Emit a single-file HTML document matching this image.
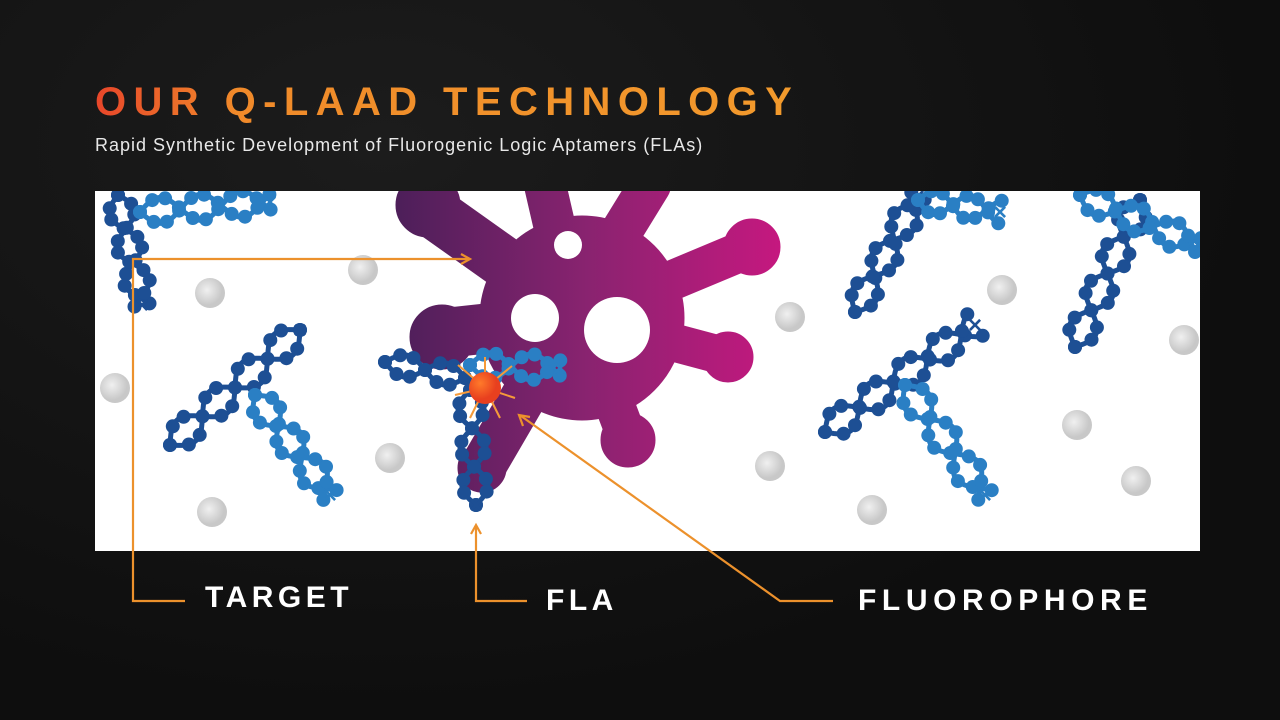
<!DOCTYPE html>
<html><head><meta charset="utf-8"><style>
html,body{margin:0;padding:0;background:#111;}
#w{position:relative;width:1280px;height:720px;overflow:hidden;background:radial-gradient(ellipse at 30% 20%,#1c1c1c,#0e0e0e 70%);font-family:"Liberation Sans",sans-serif;}
.t{position:absolute;left:95px;top:80px;font-size:40px;font-weight:bold;letter-spacing:7.4px;background:linear-gradient(90deg,#e8462a 0%,#f08a2a 20%,#f29a2c 100%);-webkit-background-clip:text;background-clip:text;color:transparent;white-space:nowrap;}
.s{position:absolute;left:95px;top:135px;font-size:18px;letter-spacing:1px;color:#e8e8e8;white-space:nowrap;}
.l{position:absolute;color:#fff;font-weight:bold;font-size:30px;letter-spacing:4.5px;white-space:nowrap;}
svg{position:absolute;left:0;top:0;}
</style></head><body><div id="w">
<div class="t">OUR Q-LAAD TECHNOLOGY</div>
<div class="s">Rapid Synthetic Development of Fluorogenic Logic Aptamers (FLAs)</div>
<svg width="1280" height="720" id="sv">
<defs>
<linearGradient id="vg" gradientUnits="userSpaceOnUse" x1="400" y1="0" x2="780" y2="0"><stop offset="0" stop-color="#4e1f5a"/><stop offset="0.5" stop-color="#8a2370"/><stop offset="1" stop-color="#c5187f"/></linearGradient>
<radialGradient id="fg" cx="0.35" cy="0.35"><stop offset="0" stop-color="#ff7a2a"/><stop offset="1" stop-color="#e8401f"/></radialGradient>
<radialGradient id="bg" cx="0.4" cy="0.4"><stop offset="0" stop-color="#f0f0f0"/><stop offset="1" stop-color="#c8c8c8"/></radialGradient>
<clipPath id="pc"><rect x="95" y="191" width="1105" height="360"/></clipPath>
</defs>
<rect x="95" y="191" width="1105" height="360" fill="#fff"/>
<g clip-path="url(#pc)" id="cg">
<g fill="url(#bg)">
<circle cx="363" cy="270" r="15"/><circle cx="210" cy="293" r="15"/><circle cx="115" cy="388" r="15"/><circle cx="390" cy="458" r="15"/><circle cx="212" cy="512" r="15"/><circle cx="790" cy="317" r="15"/><circle cx="770" cy="466" r="15"/><circle cx="872" cy="510" r="15"/><circle cx="1002" cy="290" r="15"/><circle cx="1184" cy="340" r="15"/><circle cx="1077" cy="425" r="15"/><circle cx="1136" cy="481" r="15"/>
</g>
<g fill="url(#vg)" stroke="url(#vg)" stroke-linecap="round">
<circle cx="582" cy="318" r="102"/>
<line x1="582" y1="318" x2="752" y2="247" stroke-width="40"/><circle cx="752" cy="247" r="28"/>
<line x1="582" y1="318" x2="728" y2="357" stroke-width="38"/><circle cx="728" cy="357" r="25"/>
<line x1="582" y1="318" x2="628" y2="440" stroke-width="40"/><circle cx="628" cy="440" r="27"/>
<line x1="582" y1="318" x2="445" y2="333" stroke-width="50"/><circle cx="442" cy="337" r="32"/>
<line x1="582" y1="318" x2="430" y2="210" stroke-width="52"/><circle cx="428" cy="205" r="32"/>
<line x1="560" y1="250" x2="545" y2="185" stroke-width="42"/>
<line x1="610" y1="250" x2="650" y2="185" stroke-width="42"/>
<path d="M545 360 L482 468" stroke-width="46"/><circle cx="482" cy="468" r="24"/>
</g>
<g fill="#fff"><circle cx="568" cy="245" r="14"/><circle cx="535" cy="318" r="24"/><circle cx="617" cy="330" r="33"/></g>
<g id="ap"></g>
<g stroke="#f59a3a" stroke-width="2">
<line x1="485" y1="388" x2="458" y2="365"/><line x1="485" y1="388" x2="512" y2="366"/><line x1="485" y1="388" x2="455" y2="395"/><line x1="485" y1="388" x2="515" y2="398"/><line x1="485" y1="388" x2="470" y2="418"/><line x1="485" y1="388" x2="500" y2="418"/><line x1="485" y1="388" x2="485" y2="357"/>
</g>
<circle cx="485" cy="388" r="16" fill="url(#fg)"/>
</g>
<g stroke="#ec912c" stroke-width="2.2" fill="none">
<polyline points="185,601 133,601 133,259 468,259"/><polyline points="461,254 470,259 461,264"/>
<polyline points="527,601 476,601 476,527"/><polyline points="471,534 476,525 481,534"/>
<polyline points="833,601 780,601 521,416"/><polyline points="523,426 519,415 530,417"/>
</g>
</svg>
<div class="l" style="left:205px;top:581px">TARGET</div>
<div class="l" style="left:546px;top:584px">FLA</div>
<div class="l" style="left:858px;top:584px;letter-spacing:5.6px">FLUOROPHORE</div>
</div>
<script>
var g=document.getElementById('ap'),h='';
function helix(x1,y1,x2,y2,amp,turns,c){
 var dx=x2-x1,dy=y2-y1,L=Math.hypot(dx,dy),nx=-dy/L,ny=dx/L,N=60;
 for(var s=0;s<2;s++){var p='';
  for(var i=0;i<=N;i++){var t=i/N,o=amp*Math.sin(t*turns*2*Math.PI+s*Math.PI);p+=(i?'L':'M')+(x1+dx*t+nx*o).toFixed(1)+' '+(y1+dy*t+ny*o).toFixed(1);}
  h+='<path d="'+p+'" stroke="'+c+'" stroke-width="5" fill="none"/>';
  var n=Math.round(turns*6);
  for(var k=0;k<=n;k++){var t=k/n,o=amp*Math.sin(t*turns*2*Math.PI+s*Math.PI);h+='<circle cx="'+(x1+dx*t+nx*o).toFixed(1)+'" cy="'+(y1+dy*t+ny*o).toFixed(1)+'" r="7" fill="'+c+'"/>';}
 }
 h+='<text x="'+(x2-7)+'" y="'+(y2+8)+'" fill="'+c+'" font-size="24" font-weight="bold" font-family="Liberation Sans">×</text>';
}
var a='#1d4f94',b='#2a7fc4';
helix(118,195,142,305,13,1.6,a);helix(140,212,270,202,13,1.6,b);
helix(170,445,300,330,14,2,a);helix(255,395,330,495,14,1.6,b);
helix(385,362,465,378,11,1,a);helix(470,365,560,368,13,1.1,b);helix(470,390,476,505,13,1.5,a);
helix(855,312,918,196,13,1.6,a);helix(918,200,1000,212,12,1.2,b);
helix(825,432,975,325,14,2.2,a);helix(905,385,985,495,14,1.6,b);
helix(1075,347,1140,200,14,2,a);helix(1080,195,1198,245,13,1.6,b);
g.innerHTML=h;
</script>
</body></html>
